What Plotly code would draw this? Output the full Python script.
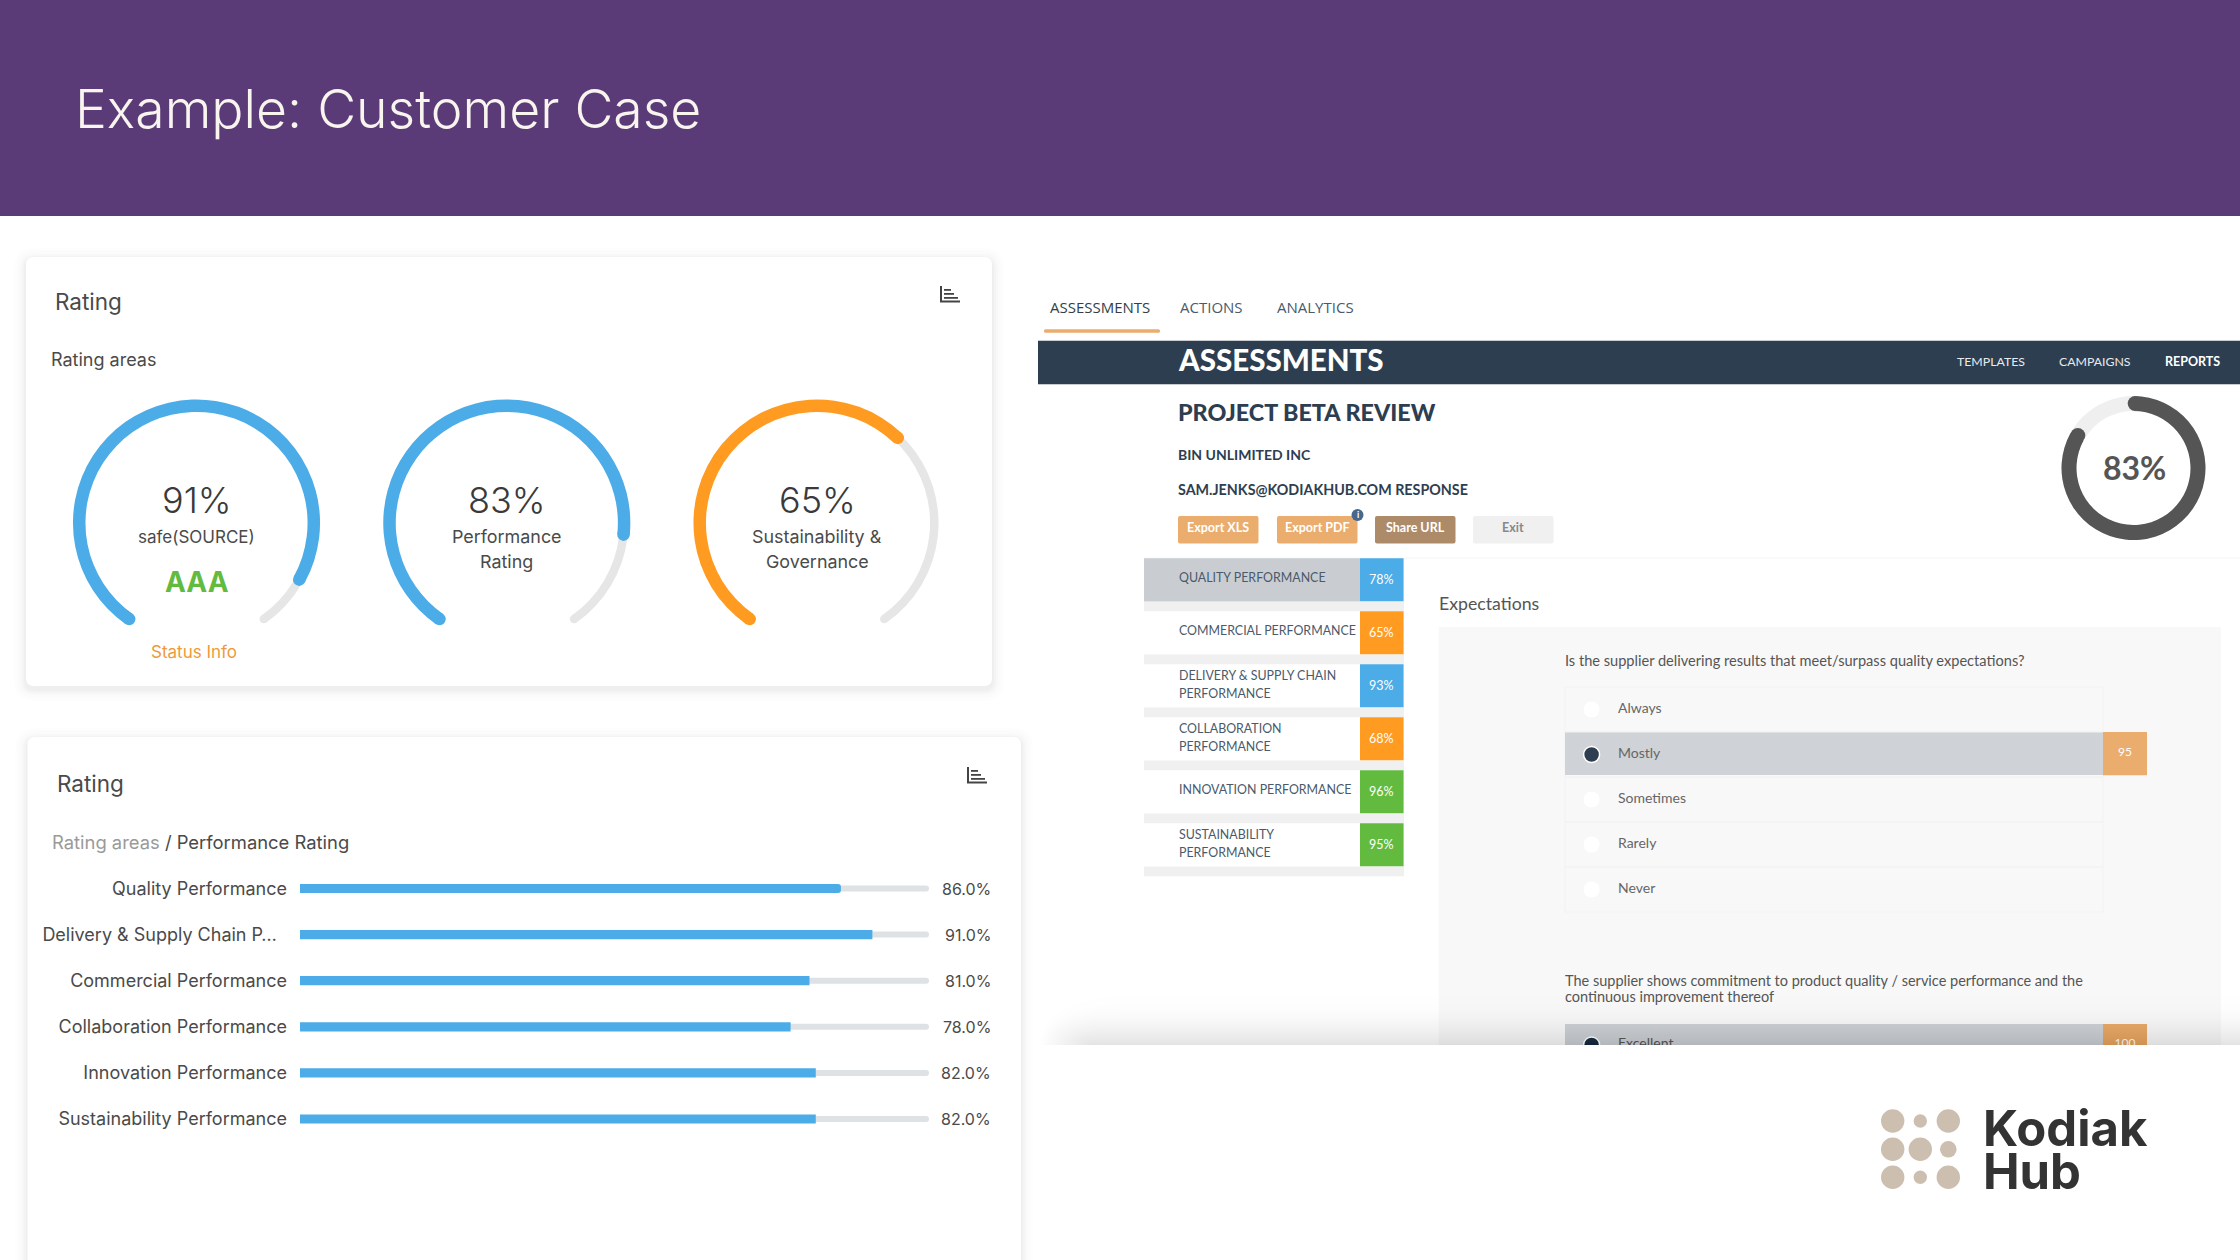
import plotly.graph_objects as go

W, H = 2240, 1260
# ---------- data ----------
title_text = "Example: Customer Case"
gauge_values = [91, 83, 65]
gauge_colors = ["#4BACE8", "#4BACE8", "#FF9B21"]
gauge_centers = [196.5, 506.8, 817.0]
gauge_lines = [["safe(SOURCE)"], ["Performance", "Rating"], ["Sustainability &", "Governance"]]
bar_categories = ["Quality Performance", "Delivery & Supply Chain P…", "Commercial Performance",
                  "Collaboration Performance", "Innovation Performance", "Sustainability Performance"]
bar_values = [86, 91, 81, 78, 82, 82]
side_labels = [["QUALITY PERFORMANCE"], ["COMMERCIAL PERFORMANCE"], ["DELIVERY & SUPPLY CHAIN", "PERFORMANCE"],
               ["COLLABORATION", "PERFORMANCE"], ["INNOVATION PERFORMANCE"], ["SUSTAINABILITY", "PERFORMANCE"]]
side_values = [78, 65, 93, 68, 96, 95]
side_colors = ["#4BACE8", "#FF9B21", "#4BACE8", "#FF9B21", "#62BB3F", "#62BB3F"]
options = ["Always", "Mostly", "Sometimes", "Rarely", "Never"]
selected_option = "Mostly"
selected_score = 95
overall_score = 83

SANS = "Inter"
LATO = "Lato"
GAUGE_START, GAUGE_SWEEP = 215, 290

def px(x): return x / W
def py(y): return 1 - y / H

shapes, annotations = [], []

def rect(x0, y0, x1, y1, fill, layer="below", line=None):
    shapes.append(dict(type="rect", xref="paper", yref="paper", x0=px(x0), x1=px(x1), y0=py(y0), y1=py(y1),
                       fillcolor=fill, line=dict(width=0) if line is None else line, layer=layer))

X = lambda v: f"{px(v):.6f}"
Y = lambda v: f"{py(v):.6f}"

def rrect(x0, y0, x1, y1, r, fill, layer="below"):
    p = (f"M {X(x0+r)} {Y(y0)} L {X(x1-r)} {Y(y0)} Q {X(x1)} {Y(y0)} {X(x1)} {Y(y0+r)} "
         f"L {X(x1)} {Y(y1-r)} Q {X(x1)} {Y(y1)} {X(x1-r)} {Y(y1)} L {X(x0+r)} {Y(y1)} "
         f"Q {X(x0)} {Y(y1)} {X(x0)} {Y(y1-r)} L {X(x0)} {Y(y0+r)} Q {X(x0)} {Y(y0)} {X(x0+r)} {Y(y0)} Z")
    shapes.append(dict(type="path", xref="paper", yref="paper", path=p, fillcolor=fill, line=dict(width=0), layer=layer))

def circle(cx, cy, r, fill, line=None):
    shapes.append(dict(type="circle", xref="paper", yref="paper", x0=px(cx-r), x1=px(cx+r), y0=py(cy+r), y1=py(cy-r),
                       fillcolor=fill, line=dict(width=0) if line is None else line, layer="below"))

def text(x, y, s, size, color="#4A4A4A", anchor="left", font=SANS, weight=400):
    if font == LATO:
        y -= 0.7
    annotations.append(dict(xref="paper", yref="paper", x=px(x), y=py(y), text=s, showarrow=False, xanchor=anchor,
                            yanchor="middle", align=anchor, borderpad=0, borderwidth=0,
                            font=dict(family=font, size=size, color=color, weight=weight)))

def card(x0, y0, x1, y1):
    for d, a in [(12, .006), (9, .008), (6, .012), (4, .016), (2, .02)]:
        rrect(x0-d, y0-d+3, x1+d, y1+d+3, 8+d, f"rgba(0,0,0,{a})")
    rrect(x0, y0, x1, y1, 8, "#FFFFFF")

def icon(x0, y0):
    c = "#444444"
    rect(x0, y0, x0+2, y0+16, c)
    rect(x0, y0+14.5, x0+20, y0+16.5, c)
    rect(x0+4, y0+3, x0+11, y0+4.8, c)
    rect(x0+4, y0+7, x0+14, y0+8.8, c)
    rect(x0+4, y0+11, x0+18, y0+12.8, c)

# header
rect(0, 0, W, 216, "#5A3B78")
text(75, 108, title_text, 53.5, "#F8F4EE", font=SANS, weight=300)

# ---------- left cards ----------
card(26, 257, 992, 686)
text(55, 301.5, "Rating", 22.5)
text(50.7, 359.5, "Rating areas", 18)
icon(940, 286)
card(27.5, 737, 1021, 1300)
text(56.5, 783, "Rating", 22.5)
text(52, 841.8, '<span style="color:#9A9A9A">Rating areas</span> / Performance Rating', 18.4)
icon(967, 767)

traces = []
layout_polars = {}
R_BOX = 126

def polar_layout(cx, cy, R):
    return dict(domain=dict(x=[px(cx-R), px(cx+R)], y=[py(cy+R), py(cy-R)]),
                bgcolor="rgba(0,0,0,0)",
                radialaxis=dict(visible=False, range=[0, R]),
                angularaxis=dict(visible=False, rotation=90, direction="clockwise"))

def arc_traces(sub, start, sweep_value, sweep_total, r_mid, th_track, th_val, track, color):
    t_end = start + sweep_value
    traces.append(go.Barpolar(subplot=sub, theta=[start + sweep_total/2], width=[sweep_total], base=[r_mid-th_track/2],
                              r=[th_track], marker=dict(color=track, line=dict(width=0)), hoverinfo="skip", showlegend=False))
    traces.append(go.Barpolar(subplot=sub, theta=[start + sweep_value/2], width=[sweep_value], base=[r_mid-th_val/2],
                              r=[th_val], marker=dict(color=color, line=dict(width=0)), hoverinfo="skip", showlegend=False))
    traces.append(go.Scatterpolar(subplot=sub, mode="markers", r=[r_mid], theta=[start + sweep_total],
                                  marker=dict(size=th_track, color=track, line=dict(width=0)), hoverinfo="skip", showlegend=False))
    traces.append(go.Scatterpolar(subplot=sub, mode="markers", r=[r_mid, r_mid], theta=[start, t_end],
                                  marker=dict(size=th_val, color=color, line=dict(width=0)), hoverinfo="skip", showlegend=False))

for i, (v, c, cx, lines) in enumerate(zip(gauge_values, gauge_colors, gauge_centers, gauge_lines)):
    sub = "polar" if i == 0 else f"polar{i+1}"
    layout_polars[sub] = polar_layout(cx, 523, R_BOX)
    arc_traces(sub, GAUGE_START, v/100*GAUGE_SWEEP, GAUGE_SWEEP, 117.3, 8.5, 12.5, "#E6E6E6", c)
    text(cx, 500, f"{v}%", 36, "#3A3A3A", "center", weight=300)
    for j, ln in enumerate(lines):
        text(cx, 536.5 + j*24.8, ln, 17 if i == 0 else 17.9, "#4A4A4A", "center")
text(gauge_centers[0], 581.5, "AAA", 28, "#62BB3F", "center", weight=700)
text(194, 651.5, "Status Info", 17, "#EE9A3A", "center")

# horizontal bars on their own axes
ROW = 46.1
top = 888.5 - ROW/2
bot = top + 6*ROW
traces.append(go.Bar(orientation="h", y=bar_categories, x=[100]*6, width=0.13, marker=dict(color="#DEE2E5", line=dict(width=0)),
                     xaxis="x", yaxis="y", hoverinfo="skip", showlegend=False))
traces.append(go.Bar(orientation="h", y=bar_categories, x=bar_values, width=0.2, marker=dict(color="#4BACE8", line=dict(width=0)),
                     xaxis="x", yaxis="y", hoverinfo="skip", showlegend=False))
for cat, v, k in zip(bar_categories, bar_values, range(6)):
    text(991, 888.5 + k*ROW, f"{v:.1f}%", 16, "#4A4A4A", "right")

# ---------- right screenshot ----------
text(1050, 307, "ASSESSMENTS", 15, "#333E48", font="Open Sans")
text(1180, 307, "ACTIONS", 15, "#4A5A6A", font="Open Sans")
text(1277, 307, "ANALYTICS", 15, "#4A5A6A", font="Open Sans")
rrect(1044, 329.3, 1160, 332.7, 1.5, "#EAAD6E")
rect(1038, 340, W, 385, "#C8CCD0")
rect(1038, 341, W, 384, "#2D3E50")
text(1178, 360, "ASSESSMENTS", 29.5, "#FFFFFF", font=LATO, weight=900)
text(1957, 362, "TEMPLATES", 12.3, "#E8EBEE", font=LATO)
text(2058.5, 362, "CAMPAIGNS", 12.3, "#E8EBEE", font=LATO)
text(2165, 362, "REPORTS", 12.5, "#FFFFFF", font=LATO, weight=700)
text(1178, 413, "PROJECT BETA REVIEW", 23.3, "#2D3E50", font=LATO, weight=900)
text(1178, 455, "BIN UNLIMITED INC", 14, "#2D3E50", font=LATO, weight=700)
text(1178, 490, "SAM.JENKS@KODIAKHUB.COM RESPONSE", 14.3, "#2D3E50", font=LATO, weight=700)
for (x0, lab, fc, tc) in [(1178, "Export XLS", "#EAAD6E", "#FFFFFF"), (1277, "Export PDF", "#EAAD6E", "#FFFFFF"),
                          (1375, "Share URL", "#AD8B68", "#FFFFFF"), (1473, "Exit", "#F0F0F0", "#888888")]:
    rrect(x0, 516, x0+80.5, 543.5, 2, fc)
    text(x0+40, 528.5, lab, 12.5, tc, "center", font=LATO, weight=700)
circle(1357.5, 515, 6, "#46688F")
text(1357.5, 515, "i", 9, "#FFFFFF", "center", font=LATO, weight=700)

layout_polars["polar4"] = polar_layout(2133.5, 468, 74)
arc_traces("polar4", 0, overall_score/100*360, 360, 64.5, 15, 15, "#EFEFEF", "#555555")
traces[-1].update(theta=[1.5, overall_score/100*360 + 1.5])
text(2134, 468, f"{overall_score}%", 32, "#555555", "center", font=LATO, weight=700)

rect(1144, 557.5, W, 558.5, "#F6F6F6")
# side table
for k, (lines, v, c) in enumerate(zip(side_labels, side_values, side_colors)):
    y0 = 558.3 + k*53
    rect(1144, y0+43.3, 1404, y0+53, "#F0F0F0")
    if k == 0:
        rect(1144, y0, 1360, y0+43.3, "#C9CDD2")
    rect(1360, y0, 1403.6, y0+43, c)
    ym = y0 + 21.5
    if len(lines) == 1:
        text(1179, ym-1.5, lines[0], 12.4, "#4A5A6A", font=LATO)
    else:
        text(1179, ym-9.5, lines[0], 12.4, "#4A5A6A", font=LATO)
        text(1179, ym+8.5, lines[1], 12.4, "#4A5A6A", font=LATO)
    text(1381, ym, f"{v}%", 12.5, "#FFFFFF", "center", font=LATO)

text(1438.7, 604, "Expectations", 17.7, "#555555", font=LATO)
rect(1438.7, 627, 2221, 1045, "#F8F8F8")
text(1565, 661, "Is the supplier delivering results that meet/surpass quality expectations?", 14.6, "#555555", font=LATO)
for k, o in enumerate(options):
    y0 = 687 + k*45
    rect(1565, y0, 2103, y0+45, "rgba(0,0,0,0)", line=dict(width=1, color="#F2F2F2"))
for k, o in enumerate(options):
    y0 = 687 + k*45
    ym = y0 + 22.5
    if o == selected_option:
        rect(1565, y0+.5, 2103, y0+43, "#CFD2D6")
        rect(2103, y0, 2147, y0+43.3, "#EAAD6E")
        text(2125, ym-2.5, str(selected_score), 12, "#FFFFFF", "center", font=LATO)
        circle(1591.6, ym, 8, "#2D3E50", line=dict(width=1.5, color="#FFFFFF"))
    else:
        circle(1591.6, ym, 8, "#FFFFFF")
    text(1618, ym-1.5, o, 14, "#666666", font=LATO)
text(1565, 981, "The supplier shows commitment to product quality / service performance and the", 14.5, "#555555", font=LATO)
text(1565, 997.5, "continuous improvement thereof", 14.5, "#555555", font=LATO)
rect(1565, 1024, 2103, 1045, "#CFD2D6")
rect(2103, 1024, 2147, 1045, "#EAAD6E")

# clipped last row: drawn on its own axes so that it is cut at the screenshot's lower edge
AX_X0, AX_X1, AX_Y0, AX_Y1 = 1040, W, 1010, 1045
traces.append(go.Scatter(x=[1591.6], y=[1045], mode="markers", xaxis="x2", yaxis="y2", cliponaxis=True,
                         marker=dict(size=16, color="#2D3E50", line=dict(width=1.5, color="#FFFFFF")), hoverinfo="skip", showlegend=False))
traces.append(go.Scatter(x=[1618, 2125], y=[1044.7, 1044], mode="text", text=["Excellent", "100"], xaxis="x2", yaxis="y2", cliponaxis=True,
                         textposition=["middle right", "middle center"], textfont=dict(family=LATO, size=[14, 12], color=["#666666", "#FFFFFF"]),
                         hoverinfo="skip", showlegend=False))

# soft shadow at the lower edge of the screenshot, one grey level per step
n = 28
for i in range(n):
    t = (i / n) ** 0.5
    y_i = 995 + 50 * t
    x_i = 1040 + 55 * (i / n)
    r = 95 * (1 - t) + 8
    p = (f"M {X(x_i)} {Y(1045)} L {X(x_i)} {Y(min(y_i + r*0.55, 1045))} Q {X(x_i)} {Y(y_i)} {X(x_i + r)} {Y(y_i)} "
         f"L {X(W)} {Y(y_i)} L {X(W)} {Y(1045)} Z")
    shapes.append(dict(type="path", xref="paper", yref="paper", path=p, fillcolor="rgba(0,0,0,0.0042)", line=dict(width=0), layer="above"))

# logo
cols = [1892.7, 1920.3, 1948.3]
rows = [1121, 1149.3, 1177.3]
radii = [[11.7, 6.7, 11.7], [11.7, 11.7, 8.3], [11.7, 6.7, 11.7]]
for yy, rr in zip(rows, radii):
    for xx, r in zip(cols, rr):
        circle(xx, yy, r, "#CDBFB0")
text(1983, 1128, "Kodiak", 49, "#333333", font=SANS, weight=700)
text(1983, 1171.5, "Hub", 49, "#333333", font=SANS, weight=700)

layout = dict(
    width=W, height=H, margin=dict(l=0, r=0, t=0, b=0, pad=0), paper_bgcolor="#FFFFFF", plot_bgcolor="rgba(0,0,0,0)",
    autosize=False, showlegend=False, barmode="overlay", barcornerradius=3, shapes=shapes, annotations=annotations,
    font=dict(family=SANS),
    xaxis=dict(domain=[px(300), px(929)], range=[0, 100], visible=False, fixedrange=True, anchor="y"),
    yaxis=dict(domain=[py(bot), py(top)], autorange="reversed", type="category", anchor="x", showgrid=False, zeroline=False,
               showline=False, ticks="", ticklabelstandoff=12, tickfont=dict(family=SANS, size=18, color="#4A4A4A"),
               tickmode="array", tickvals=bar_categories,
               ticktext=[c + ("\u00a0\u00a0" if c.endswith("…") else "") for c in bar_categories], fixedrange=True),
    xaxis2=dict(domain=[px(AX_X0), px(AX_X1)], range=[AX_X0, AX_X1], visible=False, anchor="y2", fixedrange=True),
    yaxis2=dict(domain=[py(AX_Y1), py(AX_Y0)], range=[AX_Y1, AX_Y0], visible=False, anchor="x2", fixedrange=True),
    **layout_polars,
)
fig = go.Figure(traces, go.Layout(**layout))
fig.write_html("out.html", config={"displayModeBar": False},
               post_script="document.documentElement.style.overflow='hidden';document.body.style.margin='0';window.scrollTo(0,0);")
